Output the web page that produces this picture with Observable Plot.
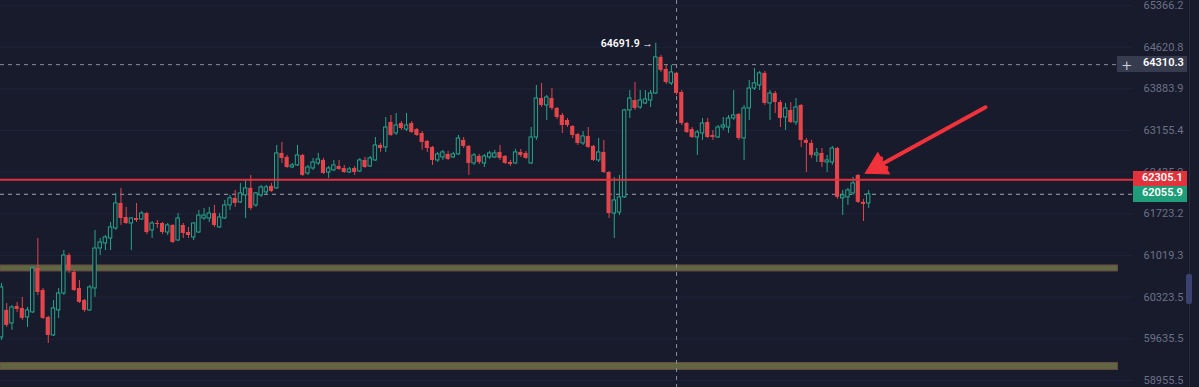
<!DOCTYPE html>
<html>
<head>
<meta charset="utf-8">
<script src="https://cdn.jsdelivr.net/npm/d3@7"></script>
<script src="https://cdn.jsdelivr.net/npm/@observablehq/plot@0.6"></script>
<style>
html,body{margin:0;padding:0;background:#171b2c;overflow:hidden}
#wrap{position:relative;width:1199px;height:387px;background:#171b2c}
#wrap svg{display:block}
.lbl{position:absolute;height:16px;line-height:16px;font:600 11px Roboto,sans-serif;color:#fff;box-sizing:border-box;white-space:nowrap}
</style>
</head>
<body>
<div id="wrap"></div>
<script>
// ---- data (BTC candles) ----
const openV = [59658,60104,59889,60170,60137,59988,60071,60802,60435,59988,
59691,60104,60385,61019,60735,60468,60269,60104,60468,61137,
61222,61306,61475,61900,61661,61559,61644,61627,61728,61441,
61559,61559,61407,61526,61272,61526,61407,61323,61407,61644,
61644,61728,61492,61644,61866,61986,61917,62037,62157,61866,
62037,62088,62191,62157,62758,62689,62516,62551,62723,62413,
62499,62585,62637,62430,62465,62533,62499,62430,62499,62447,
62637,62533,62637,62896,62862,63295,63104,63277,63172,63277,
63172,63104,62965,62862,62637,62689,62741,62689,62741,62983,
62879,62585,62706,62585,62689,62689,62775,62706,62602,62585,
62775,62758,62585,63034,63714,63592,63714,63540,63417,63330,
63225,63086,62931,63052,62879,62637,62775,62430,61728,61746,
62003,63505,63679,63557,63627,63679,63802,64439,64226,63979,
64156,63819,63277,63172,63034,63104,63295,63069,63034,63207,
63207,63365,63435,63017,63540,63889,63943,64156,63627,63802,
63644,63382,63505,63295,63592,62983,62931,62723,62758,62602,
62602,62844,61986,62003,62071,62379,61917,61900];
const highV = [60552,60219,60186,60236,60319,60153,60819,61306,60468,60005,
60269,60468,61103,61053,60769,60602,60286,60518,61441,61306,
61356,61576,62071,62157,61832,61661,61900,61764,61746,61593,
61610,61576,61559,61542,61728,61559,61492,61576,61780,61814,
61832,61866,61728,61951,62037,62122,62242,62293,62379,62088,
62208,62208,62242,62896,62948,62723,62585,62896,62741,62551,
62672,62758,62672,62533,62637,62637,62551,62516,62533,62672,
62689,62706,63034,62931,63382,63417,63452,63312,63452,63312,
63190,63138,62983,62879,62775,62810,62793,62775,63069,63034,
62896,62758,62741,62741,62793,62810,62896,62723,62637,62827,
62827,62793,63207,63943,63978,63767,63889,63557,63452,63365,
63242,63104,63138,63207,62896,63017,62983,62447,62345,62379,
63522,63854,63996,63854,63854,63854,64691.9,64474,64297,64297,
64173,63854,63295,63207,63155,63365,63365,63155,63242,63382,
63417,63854,63452,63592,64031,64244,64191,64191,63854,63837,
63679,63627,63644,63714,63609,63017,62983,62844,62844,62723,
62879,62862,62122,62157,62345,62395,61969,62122];
const lowV = [59608,59823,59774,60071,59939,59823,60054,60351,59955,59559,
59674,59972,60351,60719,60418,60219,60071,60087,60319,61019,
61103,61103,61441,61526,61542,61103,61576,61610,61374,61306,
61475,61374,61356,61222,61255,61306,61306,61272,61390,61610,
61576,61492,61475,61627,61780,61832,61900,61644,61780,61832,
62003,62054,62088,62140,62585,62499,62499,62533,62362,62379,
62465,62551,62396,62328,62447,62465,62413,62413,62379,62430,
62499,62516,62620,62775,62775,63052,63069,63155,63138,63104,
63052,62810,62775,62551,62602,62637,62637,62672,62723,62844,
62379,62551,62568,62516,62654,62672,62637,62568,62533,62568,
62689,62654,62568,62983,63557,63330,63505,63347,63104,63207,
63017,62896,62896,62844,62620,62602,62413,61644,61306,61694,
61986,63365,63505,63522,63609,63557,63784,64173,63961,63943,
63767,63242,63104,63017,62723,62983,63017,62983,63017,63155,
63104,63330,62983,62637,63330,63854,63854,63592,63330,63452,
63207,63155,63277,63242,62862,62430,62672,62602,62516,62430,
62551,61969,61694,61866,62037,61900,61593,61814];
const closeV = [60485,59856,60153,60120,59972,60104,60802,60401,59972,59691,
60137,60385,61019,60769,60435,60236,60104,60485,61137,61238,
61323,61492,61900,61644,61559,61644,61610,61728,61407,61559,
61542,61407,61526,61238,61644,61390,61356,61559,61694,61694,
61728,61526,61661,61866,61986,61900,62071,62157,61814,62071,
62174,62174,62105,62758,62672,62516,62551,62723,62379,62516,
62602,62654,62413,62499,62551,62482,62430,62482,62430,62637,
62516,62672,62896,62844,63207,63069,63242,63190,63242,63121,
63069,62948,62844,62637,62741,62775,62654,62741,63017,62879,
62585,62723,62602,62706,62758,62758,62672,62585,62568,62775,
62723,62672,63034,63714,63592,63732,63540,63382,63242,63242,
63069,62931,63052,62862,62637,62775,62430,61728,61951,62003,
63505,63714,63540,63679,63697,63802,64439,64209,63996,64173,
63802,63277,63121,63034,63121,63277,63034,63034,63207,63242,
63365,63417,63017,63540,63889,63979,64156,63627,63802,63644,
63365,63540,63295,63557,62983,62931,62723,62758,62602,62637,
62844,62003,62037,62122,62242,61917,61883,62055.9];

const tickValues = [65366.2,64620.8,63883.9,63155.4,62435.2,61723.2,61019.3,60323.5,59635.5,58955.5];
const resistancePrice = 62305.1;
const lastPrice = 62055.9;
const crossPrice = 64310.3;
const crossIndex = 130;
const peakIndex = 126;
const peakPrice = 64691.9;
const zoneLow = [60752, 59127];
const zoneHigh = [60852, 59241];
const arrowNote = [{x1: 189.5, y1: 63560, x2: 166, y2: 62400}];

// ---- layout / style ----
const BG = "#171b2c", GREEN = "#26a68c", RED = "#e5444b", ARROW = "#f0323a";
const xDomain = [-0.2, 218];
const zoneEnd = 215;

const candles = openV.map((o, i) => ({i, o, h: highV[i], l: lowV[i], c: closeV[i]}));
const up = candles.filter(d => d.c >= d.o);
const down = candles.filter(d => d.c < d.o);
const zones = zoneLow.map((lo, k) => ({lo, hi: zoneHigh[k]}));

const chart = Plot.plot({
  width: 1199, height: 387,
  marginLeft: 0, marginRight: 66, marginTop: 0, marginBottom: 0,
  style: {background: BG, color: "#6c7187", fontSize: "11px", fontFamily: "Roboto, sans-serif"},
  x: {domain: xDomain, axis: null},
  y: {type: "log", domain: [58842, 65456], axis: "right", ticks: tickValues,
      tickFormat: d => d.toFixed(1), tickSize: 0, tickPadding: 10, label: null},
  marks: [
    Plot.ruleY(tickValues, {stroke: "#1e2337", strokeWidth: 1}),
    Plot.rect(zones, {x1: () => xDomain[0], x2: () => zoneEnd, y1: "lo", y2: "hi",
      fill: "#5f6641", stroke: "#6d4a45", strokeWidth: 1}),
    Plot.ruleX([crossIndex], {stroke: "#8b8f9d", strokeDasharray: "4,4", strokeWidth: 1}),
    Plot.ruleY([crossPrice], {x1: () => xDomain[0], x2: () => zoneEnd, stroke: "#8b8f9d", strokeDasharray: "4,4", strokeWidth: 1}),
    Plot.ruleY([lastPrice], {stroke: "#9ea2ae", strokeDasharray: "4,4", strokeWidth: 1}),
    Plot.ruleX(up, {x: "i", y1: "l", y2: "h", stroke: GREEN, strokeWidth: 1}),
    Plot.ruleX(down, {x: "i", y1: "l", y2: "h", stroke: RED, strokeWidth: 1}),
    Plot.rect(up, {x1: d => d.i - 0.33, x2: d => d.i + 0.33, y1: "o", y2: "c", fill: BG, stroke: GREEN, strokeWidth: 1}),
    Plot.rect(down, {x1: d => d.i - 0.4, x2: d => d.i + 0.4, y1: "o", y2: "c", fill: RED}),
    Plot.ruleY([resistancePrice], {stroke: "#e3323b", strokeWidth: 2}),
    Plot.text([{i: peakIndex, p: peakPrice}], {x: "i", y: "p", text: d => d.p.toFixed(1) + " \u2192",
      textAnchor: "end", dx: -3, fill: "#ffffff", fontSize: 10.5, fontWeight: 600}),
    Plot.arrow(arrowNote, {x1: "x1", y1: "y1", x2: "x2", y2: "y2", stroke: ARROW,
      strokeWidth: 4, headLength: 4, insetEnd: 14}),
    Plot.dot(arrowNote, {x: "x2", y: "y2", symbol: "triangle", r: 9, rotate: 241.4,
      dx: 14, dy: -7.6, fill: ARROW, stroke: ARROW, strokeWidth: 1})
  ]
});

const wrap = document.getElementById("wrap");
wrap.appendChild(chart);

// price tags on the right axis, positioned through the plot's y scale
const ys = chart.scale("y");
const yPos = ys.apply ? (v => ys.apply(v)) : (v => d3.scaleLog().domain(ys.domain).range(ys.range)(v));

function tag(text, value, left, width, bg, padLeft, extra) {
  const el = document.createElement("div");
  el.className = "lbl";
  el.style.left = left + "px";
  el.style.width = width + "px";
  el.style.top = (yPos(value) - 8) + "px";
  el.style.background = bg;
  el.style.paddingLeft = padLeft + "px";
  el.innerHTML = (extra || "") + text;
  wrap.appendChild(el);
}
tag(crossPrice.toFixed(1), crossPrice, 1117, 70, "#363b4d", 26,
  '<span style="position:absolute;left:5px;top:-1px;font:300 17px Roboto,sans-serif;color:#d0d3dc">+</span>');
tag(resistancePrice.toFixed(1), resistancePrice, 1133, 54, "#e3323b", 9);
tag(lastPrice.toFixed(1), lastPrice, 1133, 54, "#1f9d78", 9);

// right border and scroll handle
const border = document.createElement("div");
border.style.cssText = "position:absolute;left:1189px;top:0;width:1px;height:387px;background:#252a3c";
wrap.appendChild(border);
const handle = document.createElement("div");
handle.style.cssText = "position:absolute;left:1186px;top:274px;width:6px;height:30px;background:#3c4270;border-radius:2px";
wrap.appendChild(handle);
</script>
</body>
</html>
